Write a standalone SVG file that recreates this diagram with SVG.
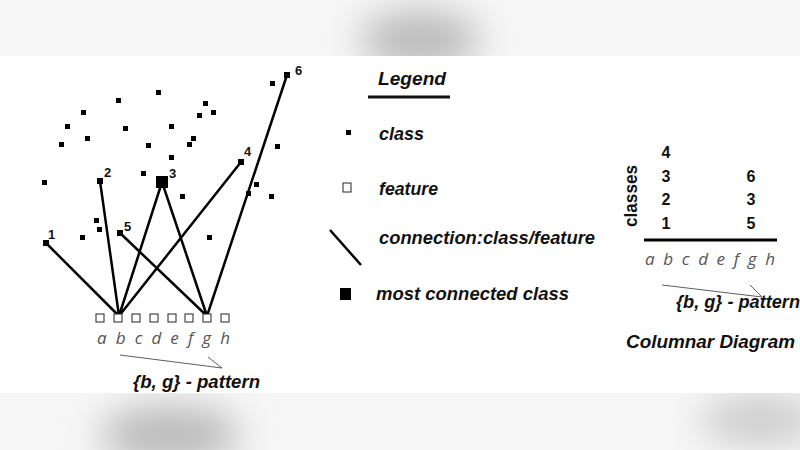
<svg xmlns="http://www.w3.org/2000/svg" width="800" height="450" viewBox="0 0 800 450">
<defs>
<filter id="bl" x="-50%" y="-50%" width="200%" height="200%"><feGaussianBlur stdDeviation="18"/></filter>
<style>
.d{fill:#000}
.f{fill:#fff;stroke:#222;stroke-width:1}
.c{stroke:#000;stroke-width:2.5;fill:none}
.t{font-family:"Liberation Sans",Arial,sans-serif;font-style:italic;font-weight:bold;fill:#111}
.n{font-family:"Liberation Sans",Arial,sans-serif;font-weight:bold;fill:#111}
.l{font-family:"Open Sans","DejaVu Sans",sans-serif;font-style:italic;font-size:17px;fill:#555}
.th{stroke:#333;stroke-width:0.8;fill:none}
</style>
</defs>
<rect width="800" height="450" fill="#fff"/>
<g id="bg">
<rect x="0" y="0" width="800" height="56" fill="#f6f6f6"/>
<rect x="0" y="393" width="800" height="57" fill="#f6f6f6"/>
<ellipse cx="420" cy="40" rx="60" ry="30" fill="#bbb" filter="url(#bl)"/>
<ellipse cx="170" cy="435" rx="70" ry="30" fill="#bbb" filter="url(#bl)"/>
<ellipse cx="760" cy="420" rx="60" ry="25" fill="#ccc" filter="url(#bl)"/>
<rect x="0" y="56" width="800" height="337" fill="#fff"/>
</g>
<g id="dots">
<rect class="d" x="156" y="90" width="5" height="5"/><rect class="d" x="116" y="98" width="5" height="5"/>
<rect class="d" x="203" y="101" width="5" height="5"/><rect class="d" x="211" y="110" width="5" height="5"/>
<rect class="d" x="197" y="113" width="5" height="5"/><rect class="d" x="81" y="110" width="5" height="5"/>
<rect class="d" x="65" y="124" width="5" height="5"/><rect class="d" x="123" y="126" width="5" height="5"/>
<rect class="d" x="169" y="124" width="5" height="5"/><rect class="d" x="191" y="136" width="5" height="5"/>
<rect class="d" x="187" y="142" width="5" height="5"/><rect class="d" x="85" y="136" width="5" height="5"/>
<rect class="d" x="59" y="142" width="5" height="5"/><rect class="d" x="146" y="143" width="5" height="5"/>
<rect class="d" x="169" y="155" width="5" height="5"/><rect class="d" x="42" y="180" width="5" height="5"/>
<rect class="d" x="141" y="171" width="5" height="5"/><rect class="d" x="180" y="194" width="5" height="5"/>
<rect class="d" x="275" y="144" width="5" height="5"/><rect class="d" x="254" y="182" width="5" height="5"/>
<rect class="d" x="269" y="194" width="5" height="5"/><rect class="d" x="246" y="191" width="5" height="5"/>
<rect class="d" x="94" y="218" width="5" height="5"/><rect class="d" x="97" y="227" width="5" height="5"/>
<rect class="d" x="80" y="235" width="5" height="5"/><rect class="d" x="207" y="235" width="5" height="5"/>
<rect class="d" x="270" y="81" width="5" height="5"/>
</g>
<g id="connectors">
<path class="c" d="M46 243L119 316M100 181L119 316M162 182L119 316M241 162L119 316"/>
<path class="c" d="M120 233L207 316M162 182L207 316M287 75L207 316"/>
<path class="th" d="M120 355L222 368L208 357"/>
<path class="th" d="M662 285L762 297L750 285"/>
</g>
<g id="classes">
<rect class="d" x="43" y="240" width="6" height="6"/><text class="n" font-size="13" x="48" y="239">1</text>
<rect class="d" x="97" y="178" width="6" height="6"/><text class="n" font-size="13" x="104" y="177">2</text>
<rect class="d" x="156" y="176" width="12" height="12"/><text class="n" font-size="13" x="169" y="178">3</text>
<rect class="d" x="238" y="159" width="6" height="6"/><text class="n" font-size="13" x="244" y="156">4</text>
<rect class="d" x="117" y="230" width="6" height="6"/><text class="n" font-size="13" x="124" y="231">5</text>
<rect class="d" x="284" y="72" width="6" height="6"/><text class="n" font-size="13" x="295" y="75">6</text>
</g>
<g id="features">
<rect class="f" x="96" y="314" width="8" height="8"/><rect class="f" x="114" y="314" width="8" height="8"/>
<rect class="f" x="132" y="314" width="8" height="8"/><rect class="f" x="150" y="314" width="8" height="8"/>
<rect class="f" x="168" y="314" width="8" height="8"/><rect class="f" x="185" y="314" width="8" height="8"/>
<rect class="f" x="203" y="314" width="8" height="8"/><rect class="f" x="221" y="314" width="8" height="8"/>
<text class="l" x="97" y="344" textLength="133" lengthAdjust="spacing">a b c d e f g h</text>
<text class="t" x="133" y="388" font-size="18" textLength="127" lengthAdjust="spacingAndGlyphs">{b, g} - pattern</text>
</g>
<g id="legend">
<text class="t" x="378" y="85" font-size="18" textLength="68" lengthAdjust="spacingAndGlyphs">Legend</text>
<line x1="368" y1="97" x2="450" y2="97" stroke="#111" stroke-width="3"/>
<rect class="d" x="346" y="130" width="5" height="5"/>
<text class="t" x="379" y="140" font-size="18">class</text>
<rect class="f" x="343" y="183" width="8" height="9"/>
<text class="t" x="379" y="195" font-size="18" textLength="59" lengthAdjust="spacingAndGlyphs">feature</text>
<line x1="330" y1="230" x2="361" y2="265" stroke="#000" stroke-width="2.5"/>
<text class="t" x="379" y="244" font-size="18" textLength="216" lengthAdjust="spacingAndGlyphs">connection:class/feature</text>
<rect class="d" x="340" y="288" width="11" height="12"/>
<text class="t" x="376" y="300" font-size="18" textLength="193" lengthAdjust="spacingAndGlyphs">most connected class</text>
</g>
<g id="columnar">
<text class="n" font-size="19" transform="translate(637 196) rotate(-90)" text-anchor="middle" textLength="62" lengthAdjust="spacingAndGlyphs">classes</text>
<text class="n" font-size="16" x="666" y="158" text-anchor="middle">4</text>
<text class="n" font-size="16" x="666" y="182" text-anchor="middle">3</text>
<text class="n" font-size="16" x="666" y="205" text-anchor="middle">2</text>
<text class="n" font-size="16" x="666" y="229" text-anchor="middle">1</text>
<text class="n" font-size="16" x="751" y="182" text-anchor="middle">6</text>
<text class="n" font-size="16" x="751" y="205" text-anchor="middle">3</text>
<text class="n" font-size="16" x="751" y="229" text-anchor="middle">5</text>
<line x1="644" y1="240" x2="777" y2="240" stroke="#000" stroke-width="3"/>
<text class="l" x="645" y="265" textLength="130" lengthAdjust="spacing">a b c d e f g h</text>
<text class="t" x="676" y="308" font-size="18" textLength="124" lengthAdjust="spacingAndGlyphs">{b, g} - pattern</text>
<text class="t" x="626" y="348" font-size="18" textLength="169" lengthAdjust="spacingAndGlyphs">Columnar Diagram</text>
</g>
</svg>
